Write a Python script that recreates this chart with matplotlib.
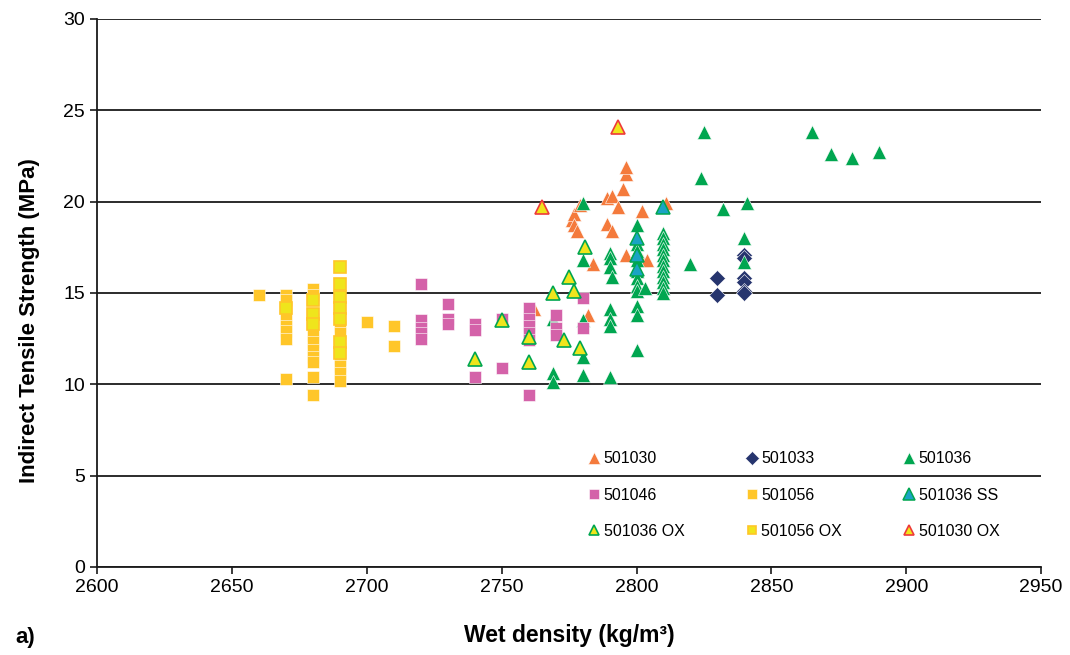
import matplotlib.pyplot as plt
from matplotlib.lines import Line2D

plt.rcParams["font.family"] = ["Liberation Sans", "DejaVu Sans"]

# ITS test results by section, wet density (kg/m3) vs strength (MPa)
x_501030 = [2762, 2776, 2777, 2779, 2777, 2778, 2782, 2784, 2789, 2791, 2793,
            2789, 2791, 2795, 2796, 2796, 2796, 2802, 2802, 2804, 2811]
y_501030 = [14.1, 19.0, 19.3, 19.8, 18.7, 18.4, 13.8, 16.6, 20.2, 20.3, 19.7,
            18.8, 18.4, 20.7, 21.5, 21.9, 17.1, 19.5, 16.8, 16.8, 19.9]

x_501033 = [2830, 2830, 2840, 2840, 2840, 2840, 2840, 2840]
y_501033 = [15.8, 14.9, 17.1, 16.9, 15.8, 15.6, 15.1, 15.0]

x_501036 = [2769, 2769, 2769,
            2780, 2780, 2780, 2780, 2780,
            2790, 2790, 2790, 2791, 2790, 2790, 2790, 2790,
            2800, 2800, 2800, 2800, 2800, 2800, 2800, 2800, 2800, 2800, 2800,
            2803,
            2810, 2810, 2810, 2810, 2810, 2810, 2810, 2810, 2810, 2810, 2810, 2810,
            2820, 2825, 2824, 2832, 2841, 2840, 2840, 2865, 2872, 2880, 2890]
y_501036 = [13.6, 10.6, 10.1,
            19.9, 16.8, 13.5, 11.5, 10.5,
            17.2, 16.9, 16.4, 15.9, 14.1, 13.6, 13.2, 10.4,
            18.7, 17.7, 17.3, 16.8, 16.2, 15.8, 15.4, 15.1, 14.3, 13.8, 11.9,
            15.3,
            18.3, 18.0, 17.7, 17.4, 17.1, 16.8, 16.5, 16.2, 15.9, 15.6, 15.3, 15.0,
            16.6, 23.8, 21.3, 19.6, 19.9, 18.0, 16.7, 23.8, 22.6, 22.4, 22.7]

x_501046 = [2720, 2720, 2720, 2720, 2720, 2730, 2730, 2730, 2740, 2740, 2740,
            2750, 2750, 2760, 2760, 2760, 2760, 2760, 2760, 2770, 2770, 2770,
            2780, 2780]
y_501046 = [15.5, 13.5, 13.1, 12.8, 12.5, 14.4, 13.6, 13.3, 13.3, 13.0, 10.4,
            13.6, 10.9, 14.2, 13.6, 13.2, 12.8, 12.4, 9.4, 13.8, 13.1, 12.7,
            14.7, 13.1]

x_501056 = [2660,
            2670, 2670, 2670, 2670, 2670, 2670, 2670,
            2680, 2680, 2680, 2680, 2680, 2680, 2680, 2680, 2680, 2680,
            2690, 2690, 2690, 2690, 2690, 2690, 2690,
            2700, 2710, 2710]
y_501056 = [14.9,
            14.9, 14.6, 13.6, 13.2, 12.9, 12.5, 10.3,
            15.2, 14.9, 13.6, 12.7, 12.3, 11.9, 11.5, 11.2, 10.4, 9.4,
            13.2, 12.8, 12.0, 11.4, 11.0, 10.6, 10.2,
            13.4, 13.2, 12.1]

x_501036ss = [2800, 2800, 2800, 2810]
y_501036ss = [18.0, 17.1, 16.3, 19.7]

x_501036ox = [2740, 2750, 2760, 2760, 2769, 2773, 2775, 2777, 2779, 2781]
y_501036ox = [11.4, 13.5, 12.6, 11.2, 15.0, 12.4, 15.9, 15.1, 12.0, 17.5]

x_501056ox = [2670, 2680, 2680, 2680, 2690, 2690, 2690, 2690, 2690, 2690, 2690]
y_501056ox = [14.2, 14.6, 13.85, 13.3, 16.4, 15.5, 14.8, 14.2, 13.6, 12.3, 11.7]

x_501030ox = [2765, 2793]
y_501030ox = [19.7, 24.1]

ORANGE = "#f47a3c"
NAVY = "#26356e"
GREEN = "#00a650"
PINK = "#d462a9"
GOLD = "#ffc629"
TEAL = "#1aa3c4"
LEMON = "#efe51c"
RED = "#ee3a3a"

TRI = 10.5
SQ = 9.0

series = [
    ("501030", x_501030, y_501030, dict(marker="^", ms=TRI, mfc=ORANGE, mec="white", mew=0.4)),
    ("501033", x_501033, y_501033, dict(marker="D", ms=8.5, mfc=NAVY, mec="white", mew=0.4)),
    ("501036", x_501036, y_501036, dict(marker="^", ms=TRI, mfc=GREEN, mec="white", mew=0.4)),
    ("501046", x_501046, y_501046, dict(marker="s", ms=SQ, mfc=PINK, mec="white", mew=0.4)),
    ("501056", x_501056, y_501056, dict(marker="s", ms=SQ, mfc=GOLD, mec="white", mew=0.4)),
    ("501036 SS", x_501036ss, y_501036ss, dict(marker="^", ms=TRI - 0.5, mfc=TEAL, mec=GREEN, mew=1.1)),
    ("501036 OX", x_501036ox, y_501036ox, dict(marker="^", ms=TRI - 1, mfc=LEMON, mec=GREEN, mew=1.2)),
    ("501056 OX", x_501056ox, y_501056ox, dict(marker="s", ms=SQ - 1, mfc=LEMON, mec=GOLD, mew=1.2)),
    ("501030 OX", x_501030ox, y_501030ox, dict(marker="^", ms=TRI - 1, mfc=LEMON, mec=RED, mew=1.2)),
]

fig = plt.figure(figsize=(10.7, 6.55), dpi=100)
ax = fig.add_axes([0.0907, 0.1344, 0.8823, 0.8366])

handles = {}
for i, (name, xs, ys, style) in enumerate(series):
    ax.plot(xs, ys, linestyle="none", zorder=3 + i, **style)
    handles[name] = Line2D([], [], linestyle="none", **style)

ax.set_xlim(2600, 2950)
ax.set_ylim(0, 30)
ax.set_xticks(range(2600, 2951, 50))
ax.set_yticks(range(0, 31, 5))
ax.yaxis.grid(True, color="#1a1a1a", linewidth=1.3)
ax.set_axisbelow(True)
for side in ("top", "right"):
    ax.spines[side].set_visible(False)
for side in ("left", "bottom"):
    ax.spines[side].set_linewidth(1.3)
    ax.spines[side].set_color("#1a1a1a")
ax.tick_params(labelsize=14, direction="out", length=5, width=1.2, color="#1a1a1a")

ax.set_xlabel("Wet density (kg/m³)", fontsize=16.5, fontweight="bold", labelpad=20)
ax.set_ylabel("Indirect Tensile Strength (MPa)", fontsize=16, fontweight="bold")
ax.yaxis.set_label_coords(-0.060, 0.45)

# legend laid out row by row: matplotlib fills columns, so reorder
order = ["501030", "501046", "501036 OX",
         "501033", "501056", "501056 OX",
         "501036", "501036 SS", "501030 OX"]
ax.legend([handles[n] for n in order], order, ncol=3, frameon=False,
          fontsize=11.5, markerscale=0.8, handlelength=0.6, handletextpad=0.3,
          columnspacing=3.9, labelspacing=1.33, loc="lower right",
          bbox_to_anchor=(0.971, 0.025))

fig.text(0.014, 0.018, "a)", fontsize=16, fontweight="bold")

fig.savefig("out.png", dpi=100)
